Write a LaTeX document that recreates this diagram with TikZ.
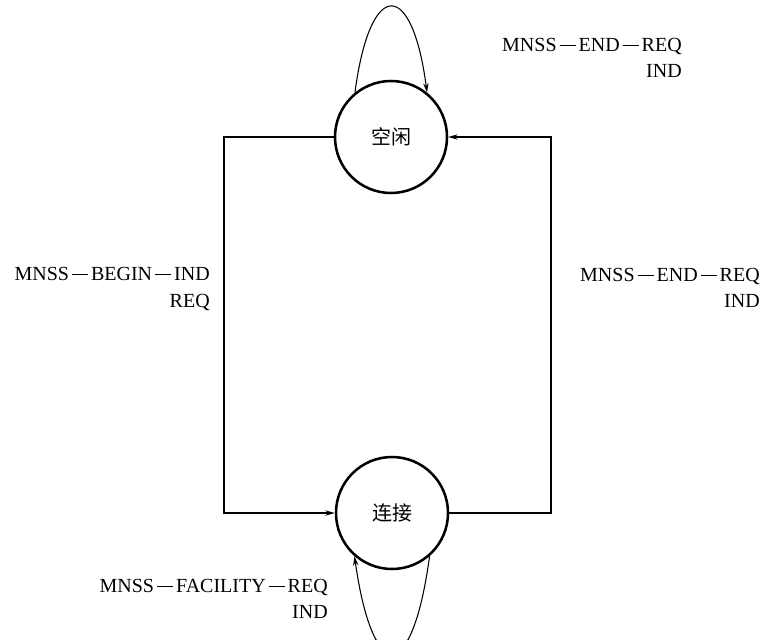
\documentclass[tikz,border=0pt]{standalone}
\usepackage{fontspec}
\setmainfont{Liberation Serif}
\newfontfamily\cjk{Noto Sans CJK SC}
\usetikzlibrary{arrows.meta}
\newcommand{\dd}{\hspace{0.15em}\rule[0.28em]{0.8em}{0.05em}\hspace{0.15em}}
\begin{document}
\begin{tikzpicture}[x=0.75pt,y=-0.75pt,
  state/.style={circle,draw,line width=1.9pt,minimum size=84pt,inner sep=0pt,font=\cjk\fontsize{15}{18}\selectfont},
  wire/.style={line width=1.1pt},
  loopline/.style={line width=0.8pt},
  tip/.style={-{Stealth[length=7pt,width=4pt]}},
  lbl/.style={align=right,inner sep=0pt,font=\fontsize{15}{20}\selectfont}]
\useasboundingbox (0,0) rectangle (762,639);
\node[state] (idle) at (391,137) {空闲};
\node[state] (conn) at (392,513) {连接};
\coordinate (tl) at (224,137);
\coordinate (bl) at (224,513);
\coordinate (tr) at (551,137);
\coordinate (br) at (551,513);
\draw[wire,tip] (idle.west) -- (tl) -- (bl) -- (conn.west);
\draw[wire,tip] (conn.east) -- (br) -- (tr) -- (idle.east);
\draw[loopline,tip] (idle.129) .. controls (370,-22) and (412,-22) .. (idle.51);
\draw[loopline,tip] (conn.311) .. controls (412,685) and (373,685) .. (conn.229);
\node[lbl,anchor=east] (l1) at (682,58) {MNSS\dd END\dd REQ\\IND};
\node[lbl,anchor=east] (l2) at (210,289) {MNSS\dd BEGIN\dd IND\\REQ};
\node[lbl,anchor=east] (l3) at (760,288) {MNSS\dd END\dd REQ\\IND};
\node[lbl,anchor=east] (l4) at (328,599) {MNSS\dd FACILITY\dd REQ\\IND};
\end{tikzpicture}
\end{document}
